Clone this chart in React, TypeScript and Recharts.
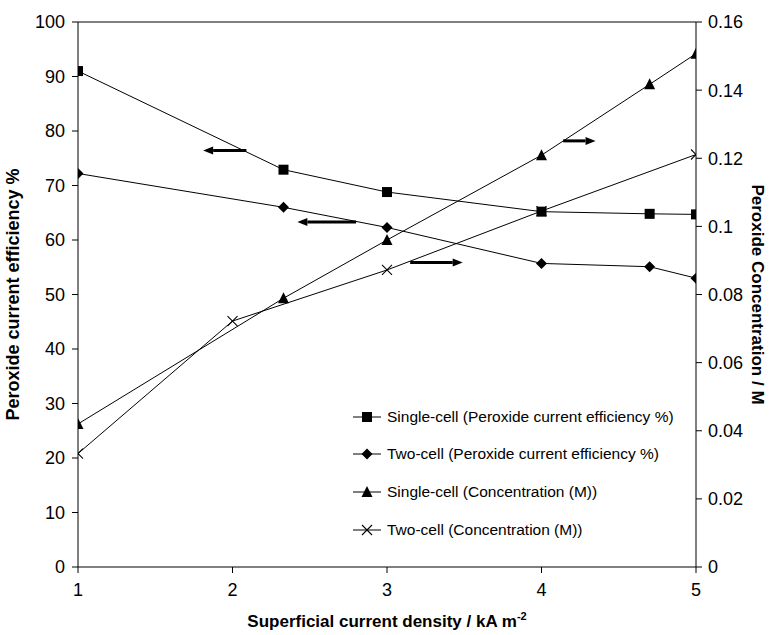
import React from "react";
import {
  ComposedChart,
  Line,
  XAxis,
  YAxis,
  Legend,
  ReferenceLine,
} from "recharts";

// x positions (kA m^-2)
const xCurrent = [1, 2.33, 3, 4, 4.7, 5];
const xTwoConc = [1, 2, 3, 4, 5];

// left axis (%)
const effSingle = [91, 72.9, 68.8, 65.2, 64.8, 64.7];
const effTwo = [72.2, 66.0, 62.3, 55.7, 55.1, 53.0];

// right axis (M)
const concSingle = [0.042, 0.0789, 0.096, 0.1209, 0.1417, 0.1507];
const concTwo = [0.0333, 0.0722, 0.0872, 0.1045, 0.1211];

const xTicks = [1, 2, 3, 4, 5];
const leftTicks = [0, 10, 20, 30, 40, 50, 60, 70, 80, 90, 100];
const rightTicks = [0, 0.02, 0.04, 0.06, 0.08, 0.1, 0.12, 0.14, 0.16];

// arrows pointing to the axis each pair belongs to
const arrowsEff = [
  { from: 2.09, to: 1.81, y: 76.4 },
  { from: 2.8, to: 2.42, y: 63.3 },
];
const arrowsConc = [
  { from: 4.14, to: 4.35, y: 0.1251 },
  { from: 3.15, to: 3.49, y: 0.0894 },
];

const toRows = (xs: number[], ys: number[]) => xs.map((x, i) => ({ x, y: ys[i] }));

const FONT = '"Liberation Sans", Arial, Helvetica, sans-serif';

type Shape = "square" | "diamond" | "triangle" | "cross";

function Marker({ shape, cx, cy }: { shape: Shape; cx: number; cy: number }) {
  if (shape === "square") {
    return <rect x={cx - 5} y={cy - 5} width={10} height={10} fill="#000" />;
  }
  if (shape === "diamond") {
    return (
      <polygon
        points={`${cx},${cy - 5.5} ${cx + 5.5},${cy} ${cx},${cy + 5.5} ${cx - 5.5},${cy}`}
        fill="#000"
      />
    );
  }
  if (shape === "triangle") {
    return (
      <polygon
        points={`${cx},${cy - 6} ${cx + 5.5},${cy + 5} ${cx - 5.5},${cy + 5}`}
        fill="#000"
      />
    );
  }
  return (
    <g stroke="#000" strokeWidth={1.1}>
      <line x1={cx - 5} y1={cy - 5} x2={cx + 5} y2={cy + 5} />
      <line x1={cx - 5} y1={cy + 5} x2={cx + 5} y2={cy - 5} />
    </g>
  );
}

const dotFor = (shape: Shape) => (p: any) => {
  if (p.cx == null || p.cy == null) return <g key={p.index} />;
  return (
    <g key={`${shape}-${p.index}`}>
      <Marker shape={shape} cx={p.cx} cy={p.cy} />
    </g>
  );
};

const series = [
  { name: "Single-cell (Peroxide current efficiency %)", shape: "square" as Shape },
  { name: "Two-cell (Peroxide current efficiency %)", shape: "diamond" as Shape },
  { name: "Single-cell (Concentration (M))", shape: "triangle" as Shape },
  { name: "Two-cell (Concentration (M))", shape: "cross" as Shape },
];

function LegendBox() {
  return (
    <div style={{ fontFamily: FONT, fontSize: 15.5, color: "#000" }}>
      {series.map((s) => (
        <div key={s.name} style={{ height: 37.6, display: "flex", alignItems: "center" }}>
          <svg width={33} height={14} style={{ flex: "none" }}>
            <line x1={3} y1={7} x2={31} y2={7} stroke="#000" strokeWidth={1} />
            <Marker shape={s.shape} cx={17} cy={7} />
          </svg>
          <span style={{ marginLeft: 4, whiteSpace: "nowrap" }}>{s.name}</span>
        </div>
      ))}
    </div>
  );
}

const Arrow = (p: any) => {
  const { x1, y1, x2, y2 } = p;
  const dx = x2 - x1;
  const dy = y2 - y1;
  const len = Math.sqrt(dx * dx + dy * dy) || 1;
  const ux = dx / len;
  const uy = dy / len;
  const bx = x2 - ux * 10;
  const by = y2 - uy * 10;
  return (
    <g>
      <line x1={x1} y1={y1} x2={bx} y2={by} stroke="#000" strokeWidth={3} />
      <polygon
        points={`${x2},${y2} ${bx - uy * 4},${by + ux * 4} ${bx + uy * 4},${by - ux * 4}`}
        fill="#000"
      />
    </g>
  );
};

const XLabel = (props: any) => {
  const vb = props.viewBox || {};
  const cx = vb.x + vb.width / 2;
  return (
    <text
      x={cx}
      y={vb.y + vb.height - 8}
      textAnchor="middle"
      fontFamily={FONT}
      fontSize={17}
      fontWeight="bold"
      fill="#000"
    >
      Superficial current density / kA m
      <tspan dy={-7} fontSize={11}>
        -2
      </tspan>
    </text>
  );
};

const tickStyle = { fill: "#000", fontSize: 18, fontFamily: FONT };
const fmtConc = (v: number) => String(Number(v.toFixed(2)));

export default function App() {
  return (
    <div style={{ position: "absolute", left: 0, top: 0, width: 770, height: 635, background: "#fff" }}>
      <ComposedChart width={770} height={635} margin={{ top: 22, right: 0, bottom: 0, left: 0 }}>
        <XAxis
          xAxisId="x"
          type="number"
          dataKey="x"
          domain={[1, 5]}
          ticks={xTicks}
          allowDataOverflow
          stroke="#000"
          tickSize={6}
          tickMargin={10}
          tick={tickStyle}
          height={68}
          label={<XLabel />}
        />
        <YAxis
          yAxisId="left"
          orientation="left"
          domain={[0, 100]}
          ticks={leftTicks}
          width={78}
          stroke="#000"
          tickSize={6}
          tickMargin={7}
          tick={tickStyle}
          label={{
            value: "Peroxide current efficiency %",
            angle: -90,
            position: "insideLeft",
            offset: 13,
            textAnchor: "middle",
            style: { fontFamily: FONT, fontSize: 18, fontWeight: "bold", fill: "#000", textAnchor: "middle" },
          }}
        />
        <YAxis
          yAxisId="rightInner"
          orientation="right"
          mirror
          domain={[0, 0.16]}
          ticks={rightTicks}
          width={0}
          axisLine={false}
          tick={false}
          tickSize={6}
          stroke="#000"
        />
        <YAxis
          yAxisId="right"
          orientation="right"
          domain={[0, 0.16]}
          ticks={rightTicks}
          width={74}
          stroke="#000"
          tickSize={6}
          tickMargin={6}
          tick={tickStyle}
          tickFormatter={fmtConc}
          label={{
            value: "Peroxide Concentration / M",
            angle: 90,
            position: "insideRight",
            offset: 12,
            textAnchor: "middle",
            style: { fontFamily: FONT, fontSize: 17, fontWeight: "bold", fill: "#000", textAnchor: "middle" },
          }}
        />
        <ReferenceLine xAxisId="x" yAxisId="left" y={100} stroke="#000" strokeWidth={1} />
        <Line
          xAxisId="x"
          yAxisId="left"
          data={toRows(xCurrent, effSingle)}
          dataKey="y"
          name={series[0].name}
          stroke="#000"
          strokeWidth={1}
          dot={dotFor("square")}
          isAnimationActive={false}
        />
        <Line
          xAxisId="x"
          yAxisId="left"
          data={toRows(xCurrent, effTwo)}
          dataKey="y"
          name={series[1].name}
          stroke="#000"
          strokeWidth={1}
          dot={dotFor("diamond")}
          isAnimationActive={false}
        />
        <Line
          xAxisId="x"
          yAxisId="right"
          data={toRows(xCurrent, concSingle)}
          dataKey="y"
          name={series[2].name}
          stroke="#000"
          strokeWidth={1}
          dot={dotFor("triangle")}
          isAnimationActive={false}
        />
        <Line
          xAxisId="x"
          yAxisId="right"
          data={toRows(xTwoConc, concTwo)}
          dataKey="y"
          name={series[3].name}
          stroke="#000"
          strokeWidth={1}
          dot={dotFor("cross")}
          isAnimationActive={false}
        />
        {arrowsEff.map((a, i) => (
          <ReferenceLine
            key={`ae${i}`}
            xAxisId="x"
            yAxisId="left"
            segment={[
              { x: a.from, y: a.y },
              { x: a.to, y: a.y },
            ]}
            shape={Arrow}
          />
        ))}
        {arrowsConc.map((a, i) => (
          <ReferenceLine
            key={`ac${i}`}
            xAxisId="x"
            yAxisId="right"
            segment={[
              { x: a.from, y: a.y },
              { x: a.to, y: a.y },
            ]}
            shape={Arrow}
          />
        ))}
        <Legend
          layout="vertical"
          align="center"
          verticalAlign="middle"
          content={<LegendBox />}
          wrapperStyle={{ position: "absolute", left: 350, top: 398, width: 380, height: 155 }}
        />
      </ComposedChart>
    </div>
  );
}
